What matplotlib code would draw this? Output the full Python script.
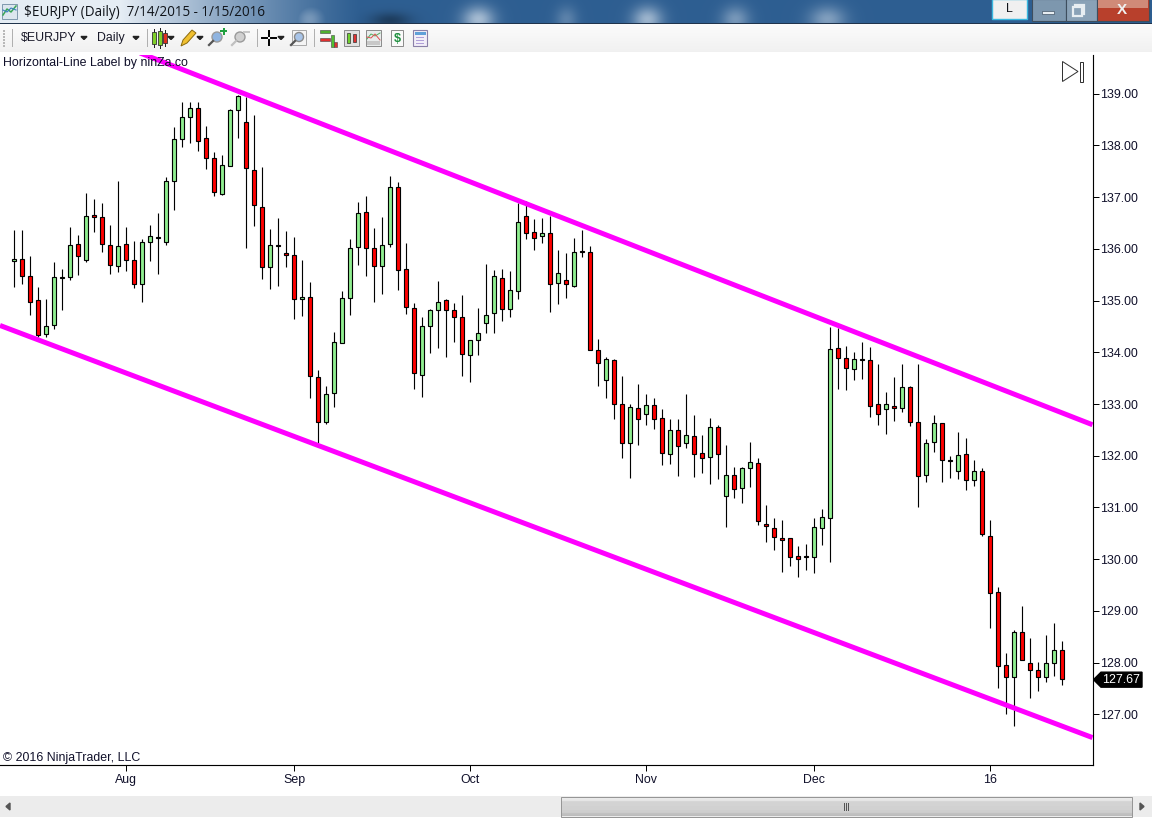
import matplotlib
matplotlib.use('Agg')
import matplotlib.pyplot as plt
import numpy as np
from matplotlib.patches import Rectangle, Polygon, Circle

plt.rcParams['font.family'] = ['Liberation Sans', 'DejaVu Sans']

opens = [135.76,135.80,135.47,135.01,134.36,134.52,135.45,135.45,136.09,135.78,
         136.65,136.61,136.07,135.67,136.09,135.78,135.32,136.13,136.23,136.14,
         137.31,138.12,138.55,138.72,138.14,137.75,137.07,137.60,138.68,138.45,
         137.52,136.81,135.65,136.07,135.92,135.88,135.03,135.07,133.52,132.66,
         133.21,134.18,135.05,136.03,136.71,136.01,135.67,136.09,137.19,135.61,
         134.85,133.56,134.51,134.82,135.01,134.82,134.68,133.95,134.24,134.56,
         134.76,135.43,134.84,135.18,136.63,136.32,136.25,136.31,135.34,135.40,
         135.28,135.96,135.94,134.04,133.46,133.85,133.00,132.24,132.92,132.81,
         132.98,132.73,132.03,132.50,132.24,132.38,132.05,131.97,132.55,131.22,
         131.63,131.37,131.76,131.86,130.68,130.60,130.41,130.41,130.06,130.06,
         130.04,130.60,130.79,134.08,133.89,133.68,133.88,133.85,133.00,132.90,
         132.96,132.92,133.33,132.65,131.63,132.26,132.63,131.92,131.70,132.03,
         131.53,131.70,130.45,129.36,127.95,127.72,128.59,127.99,127.85,127.72,127.99,128.24]
highs = [136.37,136.37,135.86,135.26,135.03,135.75,135.61,136.43,136.27,137.08,
         136.97,136.89,136.47,137.32,136.43,136.16,136.19,136.47,136.70,137.39,
         138.36,138.84,138.84,138.84,138.38,137.88,137.82,138.70,138.98,138.93,
         138.59,137.59,136.39,136.60,136.35,136.23,135.79,135.36,133.66,133.35,
         134.39,135.19,136.20,136.91,137.03,136.41,136.62,137.41,137.30,136.12,
         134.96,134.69,134.84,135.38,135.03,134.96,135.11,134.24,134.86,135.71,
         135.60,135.62,135.58,136.89,136.92,136.58,136.60,136.64,135.98,135.92,
         136.21,136.37,136.06,134.26,133.91,133.88,133.55,133.01,133.39,133.20,
         133.12,132.91,132.72,132.72,133.20,132.79,132.41,132.73,132.60,132.21,
         131.79,131.79,132.27,131.96,131.05,130.80,130.76,130.41,130.26,130.30,
         130.80,130.97,134.49,134.48,134.13,134.01,134.20,134.11,133.78,133.24,
         133.53,133.78,133.35,133.78,132.33,132.79,132.63,132.00,132.46,132.35,
         131.92,131.77,130.76,129.47,128.19,128.63,129.10,128.48,128.02,128.54,128.77,128.42]
lows = [135.27,135.32,134.72,134.29,134.30,134.45,134.82,135.39,135.50,135.74,
        136.33,135.94,135.52,135.56,135.58,135.25,134.98,135.77,135.52,136.08,
        136.76,137.97,138.05,137.90,137.55,137.03,137.05,137.60,138.15,136.02,
        136.45,135.42,135.23,135.29,135.65,134.65,134.71,133.12,132.24,132.62,
        132.95,134.18,134.73,135.69,135.48,134.98,135.13,136.04,135.21,134.74,
        133.29,133.14,133.99,134.09,133.91,134.20,133.55,133.43,133.95,134.38,
        134.38,134.61,134.69,135.03,136.20,135.98,136.12,134.78,134.94,135.05,
        135.26,135.85,134.04,133.35,133.12,132.72,131.96,131.57,132.21,132.60,
        132.52,131.83,131.84,131.61,132.15,131.59,131.67,131.46,131.55,130.63,
        131.19,131.09,131.40,130.66,130.34,130.18,129.76,129.87,129.66,129.79,
        129.74,130.28,129.95,133.30,133.28,133.47,133.49,132.75,132.60,132.43,
        132.68,132.85,132.58,131.01,131.50,132.08,131.50,131.57,131.55,131.34,
        131.42,130.45,128.67,127.51,127.01,126.78,128.05,127.32,127.45,127.63,127.74,127.57]
closes = [135.80,135.47,134.97,134.33,134.51,135.45,135.43,136.07,135.87,136.63,
          136.61,136.09,135.69,136.05,135.78,135.32,136.13,136.25,136.21,137.31,
          138.12,138.55,138.72,138.08,137.75,137.10,137.62,138.68,138.95,137.56,
          136.85,135.65,136.07,136.05,135.88,135.03,135.07,133.54,132.65,133.19,
          134.20,135.05,136.01,136.69,136.01,135.67,136.07,137.19,135.59,134.87,
          133.60,134.51,134.82,134.97,134.82,134.68,133.96,134.24,134.37,134.72,
          135.47,134.84,135.20,136.52,136.31,136.21,136.31,135.32,135.53,135.32,
          135.94,135.94,134.04,133.79,133.87,133.00,132.24,132.94,132.71,132.98,
          132.71,132.05,132.50,132.19,132.40,132.03,131.95,132.55,132.03,131.63,
          131.35,131.76,131.88,130.74,130.64,130.43,130.37,130.04,130.00,130.04,
          130.62,130.81,134.06,133.89,133.70,133.87,133.86,132.96,132.81,133.00,
          132.92,133.33,132.65,131.61,132.24,132.63,131.92,131.90,132.01,131.53,
          131.70,130.48,129.34,127.93,127.72,128.59,128.05,127.85,127.72,127.99,128.24,127.68]

month_pos = [14, 35, 57, 79, 100, 122]
month_labels = ['Aug', 'Sep', 'Oct', 'Nov', 'Dec', '16']
price_ticks = [127, 128, 129, 130, 131, 132, 133, 134, 135, 136, 137, 138, 139]
upper_x = [15.7, 134.77]
upper_y = [139.79, 132.60]
lower_x = [-1.79, 134.77]
lower_y = [134.52, 126.55]
last_price = 127.67

PX = 0.72  # one pixel in points at dpi 100
FS = 8.95
fig = plt.figure(figsize=(11.52, 8.19), dpi=100, facecolor='white')
ax = fig.add_axes([0, 54 / 819, 1092.5 / 1152, (765 - 55) / 819])

x = np.arange(len(opens))
o = np.array(opens)
c = np.array(closes)
ax.vlines(x, lows, highs, color='black', lw=PX + 0.1, zorder=2)
cols = ['#90EE90' if c[i] > o[i] else '#FF0000' for i in x]
ax.bar(x, np.abs(c - o), bottom=np.minimum(o, c), width=0.5, color=cols,
       edgecolor='black', linewidth=PX + 0.1, zorder=3)
ax.plot(upper_x, upper_y, color='#FF00FF', lw=3.6, zorder=4, solid_capstyle='butt')
ax.plot(lower_x, lower_y, color='#FF00FF', lw=3.6, zorder=4, solid_capstyle='butt')

ax.set_xlim(-1.79, 134.77)
ax.set_ylim(126.02, 139.75)
ax.spines['top'].set_visible(False)
ax.spines['left'].set_visible(False)
ax.spines['right'].set_linewidth(PX + 0.1)
ax.spines['bottom'].set_linewidth(PX + 0.1)
ax.yaxis.tick_right()
ax.set_yticks(price_ticks)
ax.set_yticklabels(['%.2f' % p for p in price_ticks], fontsize=FS, color='#10102a', va='center_baseline')
ax.set_xticks(month_pos)
ax.set_xticklabels(month_labels, fontsize=FS, color='#10102a')
ax.tick_params(axis='y', length=4.3, width=PX, pad=1)
ax.tick_params(axis='x', length=4.3, width=PX, pad=2)

# window chrome, in pixel coordinates
ui = fig.add_axes([0, 0, 1, 1], facecolor='none')
ui.set_xlim(0, 1152)
ui.set_ylim(819, 0)
ui.axis('off')


def rect(x0, y0, w, h, fc, ec='none', lw=0, z=2):
    ui.add_patch(Rectangle((x0, y0), w, h, facecolor=fc, edgecolor=ec, linewidth=lw, zorder=z))


def arrow(xc, yc, color='#222222', s=3):
    ui.add_patch(Polygon([(xc - s, yc - 1.5), (xc + s, yc - 1.5), (xc, yc + 1.5)], color=color, zorder=4))


# title bar
xx = np.arange(1152)
yy = np.arange(23)
gx, gy = np.meshgrid(xx, yy)
base = np.array([0.18, 0.37, 0.57])
light = np.array([0.90, 0.93, 0.96])
w = np.clip((360 - gx) / 240, 0, 1) ** 1.2
for bx, amp, sx in [(309, .4, 14), (478, .65, 16), (566, .25, 11), (647, .6, 15), (735, .4, 14), (827, .45, 18)]:
    w = np.maximum(w, amp * np.exp(-((gx - bx) / sx) ** 2 - ((gy - 19) / 13) ** 2))
dark = np.exp(-((gx - 390) / 20) ** 2 - ((gy - 20) / 8) ** 2) * 0.35
img = base[None, None, :] * (1 - dark[..., None]) * (1 - w[..., None]) + light[None, None, :] * w[..., None]
ui.imshow(img, extent=(0, 1152, 23, 0), aspect='auto', zorder=1)
rect(0, 23, 1152, 1, '#20344c')
ui.set_xlim(0, 1152)
ui.set_ylim(819, 0)

# little chart icon + title
rect(2, 4, 15, 15, '#dce6ee', '#7f99ad', 0.7)
ui.plot([3, 7, 11, 16], [15, 9, 12, 6], color='#3aa655', lw=1.1, zorder=3)
ui.plot([3, 7, 11, 16], [10, 12, 8, 10], color='#3a7fc0', lw=0.8, zorder=3)
ui.text(24, 12.5, '$EURJPY (Daily)  7/14/2015 - 1/15/2016', fontsize=9.75, va='center', ha='left',
        color='#10141a', family=['Open Sans', 'DejaVu Sans'], zorder=5)

# window buttons
rect(992, -1, 35, 20, '#f0f0f0', '#39b8e0', 1)
ui.text(1009.5, 8.5, 'L', fontsize=FS, ha='center', va='center', color='#10141a', zorder=5)
rect(1032, -1, 34, 22, '#7d97ae', '#3e4e5e', 0.8)
rect(1066, -1, 31, 22, '#8aa2b7', '#3e4e5e', 0.8)
rect(1097, -1, 52, 22, '#b8402c', '#3e4e5e', 0.8)
rect(1098, 0, 50, 8, '#d08a78')
rect(1042, 11, 12, 3, '#e8eef2', '#445566', 0.5, 3)
rect(1075, 5, 9, 9, 'none', '#e8eef2', 1.6, 3)
rect(1073, 7, 9, 9, '#8aa2b7', '#e8eef2', 1.6, 3)
ui.text(1122, 9.5, 'X', fontsize=11, fontweight='bold', ha='center', va='center', color='#f0f0f0', zorder=5)

# toolbar
tb = np.linspace(0.985, 0.945, 28)[:, None]
ui.imshow(np.repeat(tb, 3, axis=1).reshape(28, 1, 3), extent=(0, 1152, 52, 24), aspect='auto', zorder=1)
ui.set_xlim(0, 1152)
ui.set_ylim(819, 0)
for yd in range(30, 46, 3):
    rect(3, yd, 2, 2, '#b8b8b8')
for xs in [12, 146.5, 256.5, 314]:
    ui.plot([xs, xs], [29, 46], color='#b0b0b0', lw=PX, zorder=3)
ui.text(21, 38, '$EURJPY', fontsize=FS, va='center', color='#1a1a2a', zorder=5)
ui.text(97, 38, 'Daily', fontsize=FS, va='center', color='#1a1a2a', zorder=5)
for xa in [84, 136, 171, 200, 281]:
    arrow(xa, 38)

# candlestick icon
for x0, col, h0, h1 in [(152, '#7fd028', 32, 44), (157.5, '#7fd028', 31, 45), (163, '#e03020', 33, 43)]:
    ui.plot([x0 + 2, x0 + 2], [h0 - 3, h1 + 3], color='#222222', lw=PX, zorder=3)
    rect(x0, h0, 4, h1 - h0, col, '#333333', 0.6, 4)
# pencil
ui.add_patch(Polygon([(181, 46), (183, 40), (192, 30), (196, 33), (187, 43)], facecolor='#f0c030', edgecolor='#8a6a10', linewidth=0.7, zorder=3))
# magnifiers
for xc, col in [(217, '#8fb4e0'), (240, '#d0d0d0')]:
    ui.add_patch(Circle((xc, 37), 5, facecolor=col, edgecolor='#9a9a9a', linewidth=1, zorder=3))
    ui.plot([xc - 4, xc - 8], [41, 45], color='#555555' if xc < 230 else '#c0c0c0', lw=1.6, zorder=3)
rect(220, 30, 7, 2, '#20a040', z=4)
rect(222.5, 27.5, 2, 7, '#20a040', z=4)
rect(243, 31, 7, 2, '#c8c8c8', z=4)
# crosshair
for seg in [([262, 267], [38, 38]), ([271, 276], [38, 38]), ([269, 269], [31, 36]), ([269, 269], [40, 45])]:
    ui.plot(seg[0], seg[1], color='black', lw=1.4, zorder=3)
rect(292, 30, 14, 15, '#f4f4f4', '#a8a8a8', 0.7)
ui.add_patch(Circle((299, 37), 4.5, facecolor='#a8c4e8', edgecolor='#8a8a8a', linewidth=1, zorder=4))
ui.plot([295, 291], [41, 45], color='#555555', lw=1.6, zorder=4)
# strategy, chart, market, dollar and table icons
rect(320, 30, 10, 3, '#50b030', '#444444', 0.4)
rect(320, 38, 10, 3, '#e03030', '#444444', 0.4)
rect(331, 35, 3, 12, '#50c030', '#444444', 0.4)
rect(334, 42, 3, 5, '#e03030', '#444444', 0.4)
rect(344, 30, 15, 16, '#e0e0e0', '#8a8a8a', 0.7)
rect(347, 33, 3, 10, '#70d030', '#333333', 0.5, 3)
rect(353, 34, 3, 8, '#e03030', '#333333', 0.5, 3)
rect(366, 30, 15, 16, '#e8ecec', '#8a8a8a', 0.7)
ui.plot([367, 371, 375, 380], [39, 34, 36, 33], color='#50b060', lw=0.7, zorder=3)
ui.plot([367, 371, 375, 380], [37, 38, 34, 40], color='#e05050', lw=0.7, zorder=3)
rect(367, 41, 13, 4, '#c8c8c8', z=3)
rect(391, 30, 12, 16, '#fafafa', '#8a8a8a', 0.7)
ui.text(397, 38.5, '$', fontsize=9, fontweight='bold', color='#1f8f3f', ha='center', va='center', zorder=5)
rect(413, 30, 14, 16, '#f2eef8', '#8a80a8', 0.8)
rect(414.5, 31.5, 11, 3, '#60a0d8', z=3)
for yd in [37, 40, 43]:
    rect(416, yd, 8, 1.3, '#b0a0d8', z=3)

# labels over the chart
ui.text(3, 63, 'Horizontal-Line Label by ninZa.co', fontsize=FS, va='center', color='#10102a', zorder=6)
ui.text(3, 757.5, '\u00a9 2016 NinjaTrader, LLC', fontsize=FS, va='center', color='#10102a', zorder=6)
ui.add_patch(Polygon([(1062.5, 61.5), (1062.5, 81.5), (1078, 71.5)], fill=False, edgecolor='#333333', linewidth=PX, zorder=6))
ui.add_patch(Rectangle((1079.5, 61.5), 3, 20, fill=False, edgecolor='#333333', linewidth=PX, zorder=6))

# last price marker
ym = 819 - ax.transData.transform((0, last_price))[1]
ui.add_patch(Polygon([(1093.5, ym), (1101, ym - 7.5), (1142, ym - 7.5), (1142, ym + 7.5), (1101, ym + 7.5)],
                     color='black', zorder=6))
ui.text(1121, ym, '%.2f' % last_price, fontsize=FS, color='white', ha='center', va='center', zorder=7)

# scroll bar
rect(0, 796, 1152, 21, '#ececec')
sb = np.array([0.93, 0.93, 0.92, 0.91, 0.90, 0.84, 0.83, 0.83, 0.83, 0.83, 0.82, 0.82, 0.82, 0.82, 0.81, 0.81, 0.80, 0.76, 0.75, 0.74])[:, None]
ui.imshow(np.repeat(sb, 3, axis=1).reshape(20, 1, 3), extent=(561, 1132, 816.5, 796.5), aspect='auto', zorder=3)
ui.add_patch(Rectangle((561, 796.5), 571, 20, fill=False, edgecolor='#969696', linewidth=PX, zorder=4))
ui.set_xlim(0, 1152)
ui.set_ylim(819, 0)
for xg in [844, 846, 848]:
    ui.plot([xg, xg], [803, 810], color='#555555', lw=PX, zorder=5)
ui.add_patch(Polygon([(10, 803), (10, 810), (6, 806.5)], color='#555555', zorder=4))
ui.add_patch(Polygon([(1140, 803), (1140, 810), (1144, 806.5)], color='#555555', zorder=4))

fig.savefig('out.png', dpi=100)
